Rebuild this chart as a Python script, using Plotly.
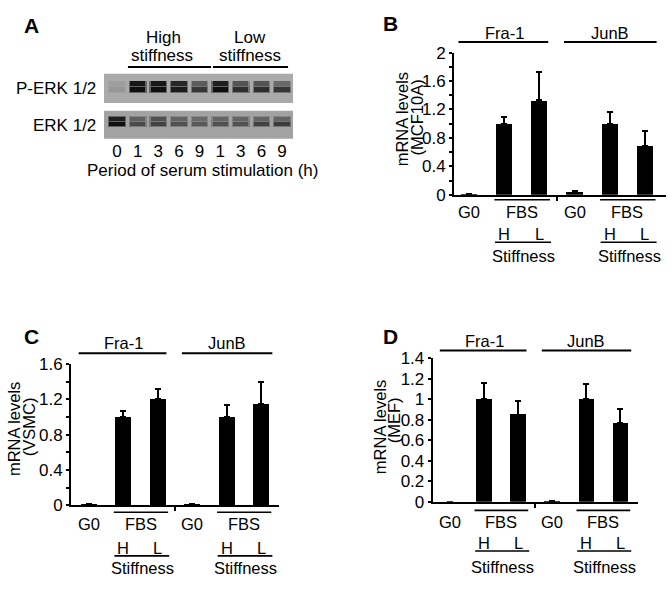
import plotly.graph_objects as go

# ---------------- data ----------------
lane_labels = ["0", "1", "3", "6", "9", "1", "3", "6", "9"]
perk_upper = [0.08, 0.95, 0.95, 0.85, 0.5, 0.9, 0.55, 0.55, 0.42]
perk_lower = [0.12, 1.0, 1.0, 0.92, 0.75, 1.0, 0.8, 0.8, 0.75]
erk_upper = [0.9, 0.45, 0.55, 0.42, 0.38, 0.42, 0.42, 0.42, 0.42]
erk_lower = [1.0, 0.6, 0.65, 0.55, 0.5, 0.55, 0.55, 0.65, 0.7]

genes = ["Fra-1", "JunB"]
conditions = ["G0", "H", "L", "G0", "H", "L"]
mcf10a_mean = [0.01, 1.0, 1.33, 0.05, 1.0, 0.69]
mcf10a_err = [0, 0.09, 0.40, 0, 0.16, 0.21]
vsmc_mean = [0.01, 1.0, 1.2, 0.01, 1.0, 1.15]
vsmc_err = [0, 0.07, 0.12, 0, 0.13, 0.25]
mef_mean = [0.0, 1.0, 0.85, 0.005, 1.0, 0.77]
mef_err = [0, 0.16, 0.135, 0, 0.15, 0.13]

W, H = 672, 592
FONT = "Liberation Sans, Arial, sans-serif"
FS = 16.5


def X(px):
    return px / W


def Y(py):
    return 1 - py / H


fig = go.Figure()
shapes = []
annotations = []


def ann(text, x, y, xref="paper", size=FS, bold=False, xanchor="center", angle=0):
    annotations.append(dict(
        text=("<b>%s</b>" % text) if bold else text, x=x, y=y, xref=xref, yref="paper",
        showarrow=False, xanchor=xanchor, yanchor="middle", textangle=angle,
        font=dict(family=FONT, size=size, color="black")))


def hline(x0, x1, y, xref, width=2):
    shapes.append(dict(type="line", x0=x0, x1=x1, y0=Y(y), y1=Y(y), xref=xref,
                       yref="paper", line=dict(color="black", width=width)))


# ---------------- panel A: blots ----------------
def band_colors(vals, bg, k=1.0):
    out = []
    for v in vals:
        c = int(round(bg - k * v * (bg - 15)))
        out.append("rgb(%d,%d,%d)" % (c, c, c))
    return out


lanes = list(range(len(lane_labels)))
blots = [
    ("x", "y", perk_upper, perk_lower, 170, (17.7, 4.6), (11.6, 5.0)),
    ("x2", "y2", erk_upper, erk_lower, 162, (18.6, 4.4), (13.0, 4.8)),
]
for xa, ya, up, lo, bg, ub, lb in blots:
    shapes.append(dict(type="rect", xref=xa + " domain", yref=ya + " domain",
                       x0=0, x1=1, y0=0, y1=1, fillcolor="rgb(%d,%d,%d)" % (bg, bg, bg),
                       line=dict(width=0), layer="below"))
    # soft halo under each band, then the band core
    for vals, (base, th) in ((up, ub), (lo, lb)):
        fig.add_trace(go.Bar(x=lanes, y=[th + 1.6] * len(lanes),
                             base=[base - 0.8] * len(lanes),
                             width=0.86, xaxis=xa, yaxis=ya, showlegend=False,
                             marker=dict(color=band_colors(vals, bg, 0.45), line=dict(width=0)),
                             hoverinfo="skip"))
    for vals, (base, th) in ((up, ub), (lo, lb)):
        fig.add_trace(go.Bar(x=lanes, y=[th] * len(lanes), base=[base] * len(lanes),
                             width=0.74, xaxis=xa, yaxis=ya, showlegend=False,
                             marker=dict(color=band_colors(vals, bg), line=dict(width=0)),
                             hoverinfo="skip"))

ann("A", X(31), Y(17), size=21, bold=True)
ann("P-ERK 1/2", X(98), Y(82), xanchor="right", size=17)
ann("ERK 1/2", X(98), Y(120), xanchor="right", size=17)
ann("High", X(163), Y(29), size=17)
ann("stiffness", X(162), Y(48), size=17)
ann("Low", X(250), Y(29), size=17)
ann("stiffness", X(250), Y(48), size=17)
hline(0.53, 4.56, 60, "x", 2)
hline(4.65, 8.29, 60, "x", 2)
ann("Period of serum stimulation (h)", X(202), Y(167), size=17)

# ---------------- bar panels ----------------
panels = [
    dict(xa="x3", ya="y3", mean=mcf10a_mean, err=mcf10a_err, yr=2.0, dt=0.4,
         letter=("B", 390, 15), title=("mRNA levels", "(MCF10A)"),
         tpos=((402, 114), (417, 112)), gy=25, gline=34,
         fbs=197, g0=210, hl=232, sline=241, stiff=255),
    dict(xa="x4", ya="y4", mean=vsmc_mean, err=vsmc_err, yr=1.6, dt=0.4,
         letter=("C", 31, 338), title=("mRNA levels", "(VSMC)"),
         tpos=((14, 434), (29, 432)), gy=345, gline=355.7,
         fbs=520, g0=531.7, hl=556.7, sline=565, stiff=578),
    dict(xa="x5", ya="y5", mean=mef_mean, err=mef_err, yr=1.4, dt=0.2,
         letter=("D", 390, 338), title=("mRNA levels", "(MEF)"),
         tpos=((380, 432), (394, 425)), gy=343, gline=352.7,
         fbs=518, g0=530, hl=552, sline=560, stiff=576),
]

pos = list(range(len(conditions)))
for p in panels:
    fig.add_trace(go.Bar(
        x=pos, y=p["mean"], width=0.46, xaxis=p["xa"], yaxis=p["ya"], showlegend=False,
        marker=dict(color="black", line=dict(width=0)),
        error_y=dict(type="data", array=p["err"], arrayminus=[0] * len(pos),
                     symmetric=False, color="black", thickness=2, width=3)))
    xa = p["xa"]
    L, lx, ly = p["letter"]
    ann(L, X(lx), Y(ly), size=21, bold=True)
    (t1, t2) = p["title"]
    ann(t1, X(p["tpos"][0][0]), Y(p["tpos"][0][1]), size=FS, angle=-90)
    ann(t2, X(p["tpos"][1][0]), Y(p["tpos"][1][1]), size=FS, angle=-90)
    for gi, g in enumerate(genes):
        off = 3 * gi
        ann(g, off + 1.0, Y(p["gy"]), xref=xa)
        hline(off - 0.3, off + 2.25 + (0.08 if gi else 0), p["gline"], xa, 2)
        ann(conditions[off], off + 0.0, Y(p["g0"]), xref=xa)
        ann("FBS", off + 1.5, Y(p["g0"]), xref=xa)
        hline(off + 0.72, off + 2.3, p["fbs"], xa, 1.6)
        ann(conditions[off + 1], off + 1.0, Y(p["hl"]), xref=xa)
        ann(conditions[off + 2], off + 2.0, Y(p["hl"]), xref=xa)
        hline(off + 0.74, off + 2.33, p["sline"], xa, 1.6)
        ann("Stiffness", off + 1.55, Y(p["stiff"]), xref=xa)

axis_common = dict(showgrid=False, zeroline=False)
layout_axes = {}
layout_axes["xaxis"] = dict(domain=[X(104), X(293)], range=[-0.63, 8.53], anchor="y",
                            showticklabels=False, ticks="", showline=False, **axis_common)
layout_axes["yaxis"] = dict(domain=[Y(97), Y(67)], range=[0, 30], anchor="x",
                            showticklabels=False, ticks="", showline=False, **axis_common)
layout_axes["xaxis2"] = dict(domain=[X(104), X(293)], range=[-0.63, 8.53], anchor="y2",
                             tickmode="array", tickvals=lanes, ticktext=lane_labels,
                             ticks="", showline=False,
                             tickfont=dict(family=FONT, size=17, color="black"), **axis_common)
layout_axes["yaxis2"] = dict(domain=[Y(134), Y(105)], range=[0, 29], anchor="x2",
                             showticklabels=False, ticks="", showline=False, **axis_common)

bar_geom = [
    ("xaxis3", "yaxis3", "x3", "y3", (454, 666), (192, 45), (-0.426, 5.597)),
    ("xaxis4", "yaxis4", "x4", "y4", (71, 279), (512.7, 366.7), (-0.523, 5.523)),
    ("xaxis5", "yaxis5", "x5", "y5", (432.7, 637.7), (509, 360.7), (-0.509, 5.52)),
]
for (xk, yk, xs, ys, (xl, xr), (yb, yt), xrng), p in zip(bar_geom, panels):
    layout_axes[xk] = dict(domain=[X(xl), X(xr)], range=list(xrng), anchor=ys,
                           showline=True, linecolor="black", linewidth=2,
                           tickmode="array", tickvals=[2.5], ticktext=[""],
                           ticks="outside", ticklen=4, tickwidth=1.5, tickcolor="black",
                           **axis_common)
    layout_axes[yk] = dict(domain=[Y(yb), Y(yt)], range=[0, p["yr"]], anchor=xs,
                           showline=True, linecolor="black", linewidth=2,
                           dtick=p["dt"], tick0=0, ticks="outside", ticklen=3,
                           tickwidth=1.5, tickcolor="black",
                           minor=dict(dtick=0.2, ticks="outside", ticklen=3,
                                      tickwidth=1.5, tickcolor="black"),
                           tickfont=dict(family=FONT, size=17, color="black"),
                           **axis_common)

fig.update_layout(
    width=W, height=H, margin=dict(l=0, r=0, t=0, b=0),
    paper_bgcolor="white", plot_bgcolor="rgba(0,0,0,0)",
    barmode="overlay", bargap=0, showlegend=False,
    font=dict(family=FONT, size=FS, color="black"),
    shapes=shapes, annotations=annotations,
    **layout_axes,
)

fig.write_html(
    "out.html",
    config={"displayModeBar": False},
    post_script=(
        "var gd=document.getElementById('{plot_id}');"
        "gd.style.position='fixed';gd.style.left='0px';gd.style.top='0px';"
        "document.body.style.margin='0';document.body.style.padding='0';"
        "document.documentElement.style.overflow='hidden';"
    ),
)
